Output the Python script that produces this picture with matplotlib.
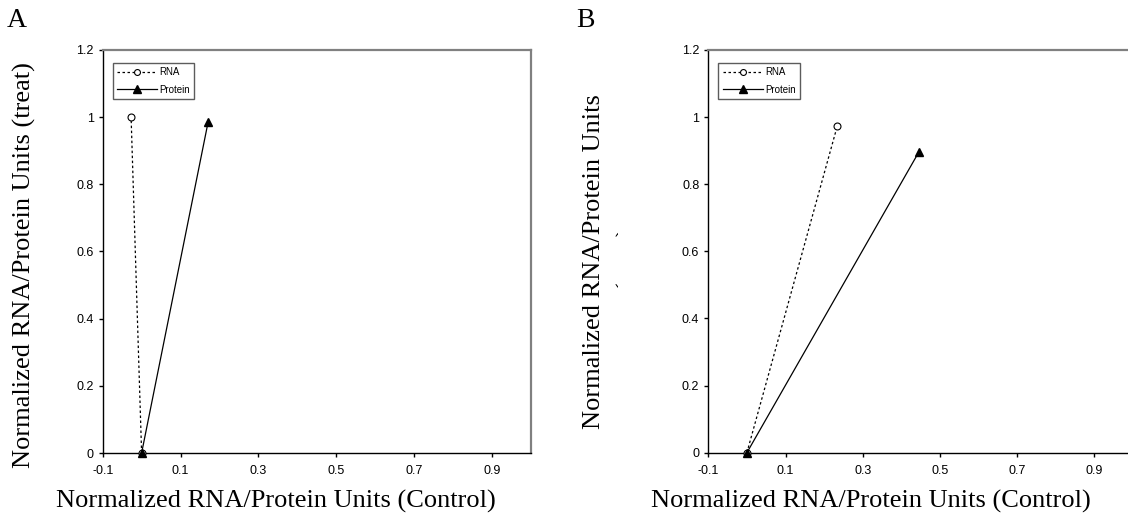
import matplotlib.pyplot as plt
from matplotlib.transforms import Bbox

# data
rna_a_x = [0.0, -0.027]
rna_a_y = [0.0, 1.0]
prot_a_x = [0.0, 0.171]
prot_a_y = [0.0, 0.986]

rna_b_x = [0.0, 0.234]
rna_b_y = [0.0, 0.973]
prot_b_x = [0.0, 0.445]
prot_b_y = [0.0, 0.895]

xticks = [-0.1, 0.1, 0.3, 0.5, 0.7, 0.9]
yticks = [0, 0.2, 0.4, 0.6, 0.8, 1.0, 1.2]
xtick_labels = ['-0.1', '0.1', '0.3', '0.5', '0.7', '0.9']
ytick_labels = ['0', '0.2', '0.4', '0.6', '0.8', '1', '1.2']

serif = 'Liberation Serif'
sans = 'Liberation Sans'

W, H = 1128, 519
fig = plt.figure(figsize=(W / 100, H / 100), dpi=100)


def style_axes(ax):
    ax.set_xlim(-0.1, 1.0)
    ax.set_ylim(0, 1.2)
    ax.set_xticks(xticks)
    ax.set_xticklabels(xtick_labels, fontfamily=sans, fontsize=9)
    ax.set_yticks(yticks)
    ax.set_yticklabels(ytick_labels, fontfamily=sans, fontsize=9)
    ax.tick_params(direction='out', length=3, width=1, colors='black')
    ax.tick_params(axis='x', pad=5.5)
    ax.tick_params(axis='y', pad=3.5)
    for s in ['left', 'bottom']:
        ax.spines[s].set_color('black')
        ax.spines[s].set_linewidth(1.0)
    for s in ['top', 'right']:
        ax.spines[s].set_color('#808080')
        ax.spines[s].set_linewidth(1.6)


def draw(ax, rx, ry, px, py):
    ax.plot(rx, ry, linestyle=(0, (2, 2)), color='black', linewidth=0.9,
            marker='o', markersize=5, markerfacecolor='white',
            markeredgecolor='black', markeredgewidth=0.8, label='RNA',
            clip_on=False, zorder=3)
    ax.plot(px, py, linestyle='-', color='black', linewidth=0.9,
            marker='^', markersize=6, markerfacecolor='black',
            markeredgecolor='black', label='Protein', clip_on=False, zorder=4)
    leg = ax.legend(loc='upper left', bbox_to_anchor=(0.0235, 0.968),
                    prop={'family': sans, 'size': 7}, frameon=True,
                    fancybox=False, edgecolor='#333333', handlelength=4.1,
                    handletextpad=0.25, borderpad=0.45, labelspacing=0.75,
                    borderaxespad=0, markerscale=0.85)
    leg.get_frame().set_linewidth(1.0)


# panel A
ax_a = fig.add_axes([102.7 / W, (H - 453) / H, 428 / W, 403 / H])
style_axes(ax_a)
draw(ax_a, rna_a_x, rna_a_y, prot_a_x, prot_a_y)
fig.text(24 / W, 1 - 265 / H, 'Normalized RNA/Protein Units (treat)',
         rotation=90, ha='center', va='center', fontfamily=serif, fontsize=19)
fig.text(276 / W, 1 - 508 / H, 'Normalized RNA/Protein Units (Control)',
         ha='center', va='baseline', fontfamily=serif, fontsize=19)
fig.text(7 / W, 1 - 27 / H, 'A', ha='left', va='baseline',
         fontfamily=serif, fontsize=20)

# panel B (right side runs past the figure edge)
ax_b = fig.add_axes([708.3 / W, (H - 452.7) / H, 424.6 / W, 402.7 / H])
style_axes(ax_b)
draw(ax_b, rna_b_x, rna_b_y, prot_b_x, prot_b_y)
fig.text(600 / W, 1 - 262 / H, 'Normalized RNA/Protein Units', rotation=90,
         rotation_mode='anchor', ha='center', va='baseline',
         fontfamily=serif, fontsize=19)
# second label line, almost fully hidden in the reference
t = fig.text(633 / W, 1 - 258 / H, '(treat)', rotation=90,
             rotation_mode='anchor', ha='center', va='baseline',
             fontfamily=serif, fontsize=19)
t.set_clip_box(Bbox.from_extents(0, 0, 618, H))
t.set_clip_on(True)
fig.text(871 / W, 1 - 508 / H, 'Normalized RNA/Protein Units (Control)',
         ha='center', va='baseline', fontfamily=serif, fontsize=19)
fig.text(576 / W, 1 - 27 / H, 'B', ha='left', va='baseline',
         fontfamily=serif, fontsize=20)

fig.savefig('out.png', dpi=100)
